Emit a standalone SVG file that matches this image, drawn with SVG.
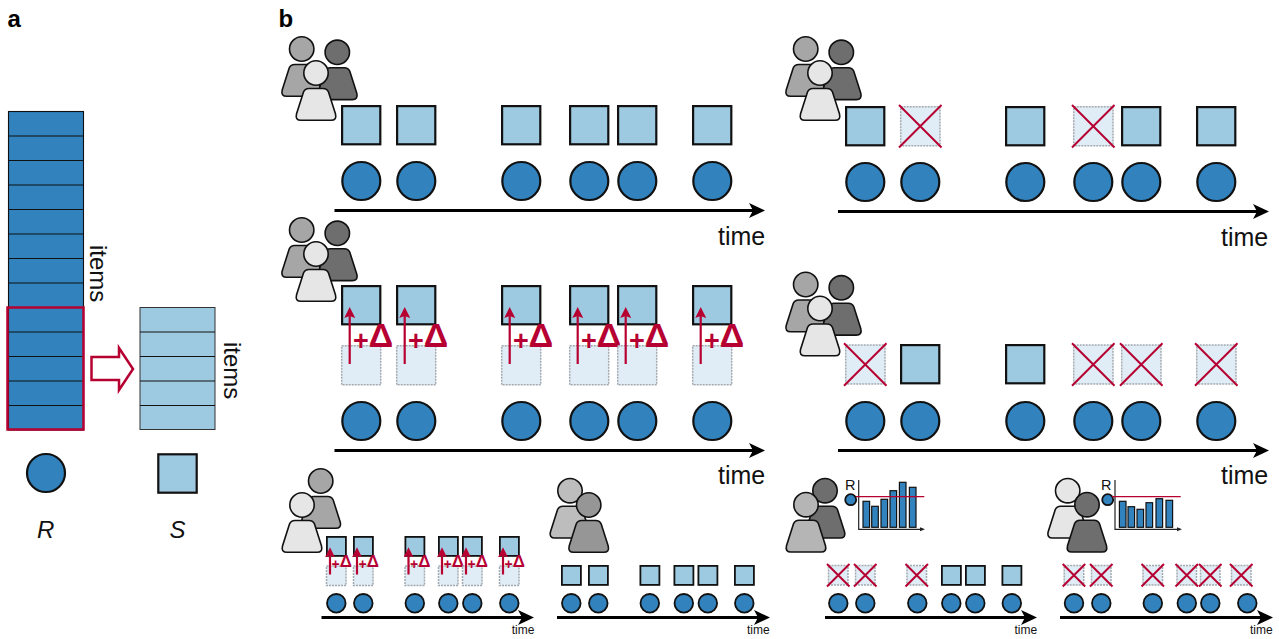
<svg xmlns="http://www.w3.org/2000/svg" width="1279" height="639" viewBox="0 0 1279 639">
<style>
text{font-family:"Liberation Sans",Arial,sans-serif;fill:#111}
.lab{font-size:24px;font-weight:bold;fill:#000}
.t{font-size:24px}
.tm{font-size:25px}
.ts{font-size:12px}
.i{font-size:24px;font-style:italic}
.r{font-size:14.5px}
.d{font-size:27px;font-weight:bold;fill:#b70032}
.d tspan{font-size:34px}
.ds{font-size:14px;font-weight:bold;fill:#b70032}
.ds tspan{font-size:17px}
.dk{stroke:#111;stroke-width:2.2}
.dks{stroke:#111;stroke-width:1.8}
.s{fill:#9ecae1}
.c{fill:#3182bd}
.pale{fill:#e1edf6;stroke:#a3a9b0;stroke-width:1.5;stroke-dasharray:2 1}
.cross{stroke:#b70032;stroke-width:2;fill:none}
.ax{stroke:#000;stroke-width:3;fill:none}
.ra{stroke:#b70032;stroke-width:2.2;fill:none}
.thin{stroke:#222;stroke-width:1.2;fill:none}
.row{stroke:#111;stroke-width:1.1}
.bar{fill:#3182bd;stroke:#111;stroke-width:1.2}
</style>
<defs>
<marker id="ah" markerUnits="userSpaceOnUse" markerWidth="16" markerHeight="16" viewBox="0 0 16 16" refX="12" refY="8" orient="auto"><polygon points="0,0.5 16,8 0,15.5 4,8" fill="#000"/></marker>
<marker id="rh" markerUnits="userSpaceOnUse" markerWidth="11" markerHeight="11" viewBox="0 0 11 11" refX="5.5" refY="5.5" orient="auto"><polygon points="0,0 11,5.5 0,11 2,5.5" fill="#b70032"/></marker>
<marker id="rs" markerUnits="userSpaceOnUse" markerWidth="10" markerHeight="10" viewBox="0 0 11 11" refX="5.5" refY="5.5" orient="auto"><polygon points="0,0 11,5.5 0,11 2,5.5" fill="#b70032"/></marker>
<marker id="sh" markerUnits="userSpaceOnUse" markerWidth="5" markerHeight="5" viewBox="0 0 5 5" refX="3" refY="2.5" orient="auto"><polygon points="0,0.5 5,2.5 0,4.5" fill="#222"/></marker>
<g id="per"><path d="M-7,15.5H7Q11,15.5 12.5,19L19.5,41Q21,47.3 15,47.3H-15Q-21,47.3 -19.5,41L-12.5,19Q-11,15.5 -7,15.5Z" stroke="#111" stroke-width="1.6"/><circle r="12.2" stroke="#111" stroke-width="1.6"/></g>
<rect id="S" x="1.1" y="1.1" width="38.2" height="38.2" class="s dk"/>
<circle id="C" cx="20.3" cy="20" r="19" class="c dk"/>
<g id="X"><rect x="0.7" y="0.7" width="39.3" height="39" class="pale"/><path d="M-1,-1L41.5,41.5M41.5,-1L-1,41.5" class="cross"/></g>
<rect id="P" x="0.7" y="0.7" width="39" height="39" class="pale"/>
<rect id="Ss" x="0.9" y="0.9" width="19" height="19" class="s dks"/>
<circle id="Cs" cx="10.3" cy="10.3" r="9.3" class="c dks"/>
<g id="Xs"><rect x="0.5" y="0.5" width="19.5" height="19.5" class="pale"/><path d="M-1,-1L21.5,21.5M21.5,-1L-1,21.5" class="cross"/></g>
<rect id="Ps" x="0.5" y="0.5" width="19.5" height="19.5" class="pale"/>
</defs>
<rect width="1279" height="639" fill="#fff"/>
<text class="lab" x="7.5" y="26.5">a</text>
<text class="lab" x="278.5" y="26.5">b</text>
<g id="stack-R">
<rect x="8.5" y="111.5" width="75" height="318.5" class="c" stroke="#111" stroke-width="1.1"/>
<path class="row" d="M8.5,136H83.5M8.5,160.5H83.5M8.5,185H83.5M8.5,209.5H83.5M8.5,234H83.5M8.5,258.5H83.5M8.5,283H83.5M8.5,307.5H83.5M8.5,332H83.5M8.5,356.5H83.5M8.5,381H83.5M8.5,405.5H83.5"/>
<rect x="7.5" y="307.5" width="76" height="122" fill="none" stroke="#b70032" stroke-width="2.5"/>
<text class="t" transform="translate(90,245) rotate(90)">items</text>
</g>
<g id="stack-S">
<rect x="140" y="307.5" width="75" height="122" class="s" stroke="#333" stroke-width="1"/>
<path class="row" d="M140,332H215M140,356.5H215M140,381H215M140,405.5H215"/>
<text class="t" transform="translate(224,342) rotate(90)">items</text>
</g>
<polygon id="select-arrow" points="91.5,357 119,357 119,348 133,369 119,390 119,380 91.5,380" fill="#fff" stroke="#b70032" stroke-width="2.5"/>
<g id="key-R"><circle cx="46" cy="473" r="19" class="c dk"/><text class="i" x="45.7" y="538" text-anchor="middle">R</text></g>
<g id="key-S"><rect x="158.3" y="454.3" width="38.4" height="38.4" class="s dk"/><text class="i" x="177.5" y="538" text-anchor="middle">S</text></g>

<g id="connectors">
<line class="ax" x1="334.5" y1="210.5" x2="761" y2="210.5" marker-end="url(#ah)"/>
<line class="ax" x1="838" y1="211.5" x2="1265" y2="211.5" marker-end="url(#ah)"/>
<line class="ax" x1="334.5" y1="450.5" x2="761" y2="450.5" marker-end="url(#ah)"/>
<line class="ax" x1="838" y1="450.5" x2="1265" y2="450.5" marker-end="url(#ah)"/>
<line class="ax" x1="321.5" y1="617.5" x2="530" y2="617.5" marker-end="url(#ah)"/>
<line class="ax" x1="557" y1="617.5" x2="766" y2="617.5" marker-end="url(#ah)"/>
<line class="ax" x1="825" y1="617.5" x2="1033" y2="617.5" marker-end="url(#ah)"/>
<line class="ax" x1="1060" y1="617.5" x2="1269" y2="617.5" marker-end="url(#ah)"/>
</g>
<g id="time-labels">
<text class="tm" x="718" y="245">time</text><text class="tm" x="1221" y="246">time</text>
<text class="tm" x="718" y="484">time</text><text class="tm" x="1221" y="484">time</text>
<text class="ts" x="511.7" y="634">time</text><text class="ts" x="747" y="634">time</text>
<text class="ts" x="1014.5" y="634">time</text><text class="ts" x="1250" y="634">time</text>
</g>

<g id="p1-people"><use href="#per" x="301.7" y="49" fill="#a6a6a6"/><use href="#per" x="337.3" y="52.3" fill="#6e6e6e"/><use href="#per" x="316" y="73" fill="#e6e6e6"/></g>
<g id="p1-i1"><use href="#S" x="341" y="105"/><use href="#C" x="341" y="161"/></g>
<g id="p1-i2"><use href="#S" x="396" y="105"/><use href="#C" x="396" y="161"/></g>
<g id="p1-i3"><use href="#S" x="501" y="105"/><use href="#C" x="501" y="161"/></g>
<g id="p1-i4"><use href="#S" x="569" y="105"/><use href="#C" x="569" y="161"/></g>
<g id="p1-i5"><use href="#S" x="617" y="105"/><use href="#C" x="617" y="161"/></g>
<g id="p1-i6"><use href="#S" x="692" y="105"/><use href="#C" x="692" y="161"/></g>

<g id="p2-people"><use href="#per" x="805.7" y="49" fill="#a6a6a6"/><use href="#per" x="841.3" y="52.3" fill="#6e6e6e"/><use href="#per" x="820" y="73" fill="#e6e6e6"/></g>
<g id="p2-i1"><use href="#S" x="845" y="106"/><use href="#C" x="845" y="162"/></g>
<g id="p2-i2"><use href="#X" x="900" y="106"/><use href="#C" x="900" y="162"/></g>
<g id="p2-i3"><use href="#S" x="1005" y="106"/><use href="#C" x="1005" y="162"/></g>
<g id="p2-i4"><use href="#X" x="1073" y="106"/><use href="#C" x="1073" y="162"/></g>
<g id="p2-i5"><use href="#S" x="1121" y="106"/><use href="#C" x="1121" y="162"/></g>
<g id="p2-i6"><use href="#S" x="1196" y="106"/><use href="#C" x="1196" y="162"/></g>

<g id="p3-people"><use href="#per" x="301.7" y="230" fill="#a6a6a6"/><use href="#per" x="337.3" y="233.3" fill="#6e6e6e"/><use href="#per" x="316" y="254" fill="#e6e6e6"/></g>
<g id="p3-i1"><use href="#S" x="341" y="285"/><use href="#P" x="341" y="345"/><use href="#C" x="341" y="401"/><line class="ra" x1="349.7" y1="364" x2="349.7" y2="312.5" marker-end="url(#rh)"/><text class="d" x="353" y="350">+<tspan y="347">Δ</tspan></text></g>
<g id="p3-i2"><use href="#S" x="396" y="285"/><use href="#P" x="396" y="345"/><use href="#C" x="396" y="401"/><line class="ra" x1="404.7" y1="364" x2="404.7" y2="312.5" marker-end="url(#rh)"/><text class="d" x="408" y="350">+<tspan y="347">Δ</tspan></text></g>
<g id="p3-i3"><use href="#S" x="501" y="285"/><use href="#P" x="501" y="345"/><use href="#C" x="501" y="401"/><line class="ra" x1="509.7" y1="364" x2="509.7" y2="312.5" marker-end="url(#rh)"/><text class="d" x="513" y="350">+<tspan y="347">Δ</tspan></text></g>
<g id="p3-i4"><use href="#S" x="569" y="285"/><use href="#P" x="569" y="345"/><use href="#C" x="569" y="401"/><line class="ra" x1="577.7" y1="364" x2="577.7" y2="312.5" marker-end="url(#rh)"/><text class="d" x="581" y="350">+<tspan y="347">Δ</tspan></text></g>
<g id="p3-i5"><use href="#S" x="617" y="285"/><use href="#P" x="617" y="345"/><use href="#C" x="617" y="401"/><line class="ra" x1="625.7" y1="364" x2="625.7" y2="312.5" marker-end="url(#rh)"/><text class="d" x="629" y="350">+<tspan y="347">Δ</tspan></text></g>
<g id="p3-i6"><use href="#S" x="692" y="285"/><use href="#P" x="692" y="345"/><use href="#C" x="692" y="401"/><line class="ra" x1="700.7" y1="364" x2="700.7" y2="312.5" marker-end="url(#rh)"/><text class="d" x="704" y="350">+<tspan y="347">Δ</tspan></text></g>

<g id="p4-people"><use href="#per" x="805.7" y="284.5" fill="#a6a6a6"/><use href="#per" x="841.3" y="287.8" fill="#6e6e6e"/><use href="#per" x="820" y="308.5" fill="#e6e6e6"/></g>
<g id="p4-i1"><use href="#X" x="845" y="344.3"/><use href="#C" x="845" y="401"/></g>
<g id="p4-i2"><use href="#S" x="900" y="344"/><use href="#C" x="900" y="401"/></g>
<g id="p4-i3"><use href="#S" x="1005" y="344"/><use href="#C" x="1005" y="401"/></g>
<g id="p4-i4"><use href="#X" x="1073" y="344.3"/><use href="#C" x="1073" y="401"/></g>
<g id="p4-i5"><use href="#X" x="1121" y="344.3"/><use href="#C" x="1121" y="401"/></g>
<g id="p4-i6"><use href="#X" x="1196" y="344.3"/><use href="#C" x="1196" y="401"/></g>

<g id="p5-people"><use href="#per" x="320.7" y="481" fill="#a6a6a6"/><use href="#per" x="302" y="505" fill="#e6e6e6"/></g>
<g id="p5-i1"><use href="#Ss" x="326" y="536"/><use href="#Ps" x="326" y="565.5"/><use href="#Cs" x="326" y="593"/><line class="ra" x1="330" y1="574.5" x2="330" y2="552.3" marker-end="url(#rs)"/><text class="ds" x="331.6" y="568.6">+<tspan y="567">Δ</tspan></text></g>
<g id="p5-i2"><use href="#Ss" x="353" y="536"/><use href="#Ps" x="353" y="565.5"/><use href="#Cs" x="353" y="593"/><line class="ra" x1="357" y1="574.5" x2="357" y2="552.3" marker-end="url(#rs)"/><text class="ds" x="358.6" y="568.6">+<tspan y="567">Δ</tspan></text></g>
<g id="p5-i3"><use href="#Ss" x="404.5" y="536"/><use href="#Ps" x="404.5" y="565.5"/><use href="#Cs" x="404.5" y="593"/><line class="ra" x1="408.5" y1="574.5" x2="408.5" y2="552.3" marker-end="url(#rs)"/><text class="ds" x="410.1" y="568.6">+<tspan y="567">Δ</tspan></text></g>
<g id="p5-i4"><use href="#Ss" x="438" y="536"/><use href="#Ps" x="438" y="565.5"/><use href="#Cs" x="438" y="593"/><line class="ra" x1="442" y1="574.5" x2="442" y2="552.3" marker-end="url(#rs)"/><text class="ds" x="443.6" y="568.6">+<tspan y="567">Δ</tspan></text></g>
<g id="p5-i5"><use href="#Ss" x="462" y="536"/><use href="#Ps" x="462" y="565.5"/><use href="#Cs" x="462" y="593"/><line class="ra" x1="466" y1="574.5" x2="466" y2="552.3" marker-end="url(#rs)"/><text class="ds" x="467.6" y="568.6">+<tspan y="567">Δ</tspan></text></g>
<g id="p5-i6"><use href="#Ss" x="499" y="536"/><use href="#Ps" x="499" y="565.5"/><use href="#Cs" x="499" y="593"/><line class="ra" x1="503" y1="574.5" x2="503" y2="552.3" marker-end="url(#rs)"/><text class="ds" x="504.6" y="568.6">+<tspan y="567">Δ</tspan></text></g>

<g id="p6-people"><use href="#per" x="570" y="490.7" fill="#bdbdbd"/><use href="#per" x="588.7" y="505" fill="#969696"/></g>
<g id="p6-i1"><use href="#Ss" x="561" y="565"/><use href="#Cs" x="561" y="593"/></g>
<g id="p6-i2"><use href="#Ss" x="588" y="565"/><use href="#Cs" x="588" y="593"/></g>
<g id="p6-i3"><use href="#Ss" x="639.5" y="565"/><use href="#Cs" x="639.5" y="593"/></g>
<g id="p6-i4"><use href="#Ss" x="673.5" y="565"/><use href="#Cs" x="673.5" y="593"/></g>
<g id="p6-i5"><use href="#Ss" x="697.5" y="565"/><use href="#Cs" x="697.5" y="593"/></g>
<g id="p6-i6"><use href="#Ss" x="734" y="565"/><use href="#Cs" x="734" y="593"/></g>

<g id="p7-people"><use href="#per" x="825" y="490.7" fill="#6e6e6e"/><use href="#per" x="806" y="504.7" fill="#b5b5b5"/></g>
<g id="p7-chart">
<text class="r" x="845" y="490">R</text>
<circle cx="850.7" cy="499.7" r="5.5" class="c dks"/>
<rect class="bar" x="863" y="501.3" width="6.6" height="26"/><rect class="bar" x="871.7" y="506.3" width="6.6" height="21"/><rect class="bar" x="881" y="499.3" width="6.6" height="28"/><rect class="bar" x="890" y="490.7" width="6.6" height="36.6"/><rect class="bar" x="899.4" y="482.3" width="6.6" height="45"/><rect class="bar" x="909.4" y="487.3" width="6.6" height="40"/>
<path class="thin" d="M858.7,480V529.3H923" marker-end="url(#sh)"/>
<line x1="856" y1="496.7" x2="924.3" y2="496.7" stroke="#b70032" stroke-width="1.3"/>
</g>
<g id="p7-i1"><use href="#Xs" x="828" y="565"/><use href="#Cs" x="828" y="593"/></g>
<g id="p7-i2"><use href="#Xs" x="855" y="565"/><use href="#Cs" x="855" y="593"/></g>
<g id="p7-i3"><use href="#Xs" x="906.5" y="565"/><use href="#Cs" x="907" y="593"/></g>
<g id="p7-i4"><use href="#Ss" x="941" y="565"/><use href="#Cs" x="941" y="593"/></g>
<g id="p7-i5"><use href="#Ss" x="965" y="565"/><use href="#Cs" x="965" y="593"/></g>
<g id="p7-i6"><use href="#Ss" x="1001.5" y="565"/><use href="#Cs" x="1001.5" y="593"/></g>

<g id="p8-people"><use href="#per" x="1067.7" y="490.7" fill="#e6e6e6"/><use href="#per" x="1087" y="504.7" fill="#6e6e6e"/></g>
<g id="p8-chart">
<text class="r" x="1101" y="490">R</text>
<circle cx="1107.7" cy="499.7" r="5.5" class="c dks"/>
<rect class="bar" x="1119.4" y="501.3" width="6.6" height="26"/><rect class="bar" x="1128" y="506.7" width="6.6" height="20.6"/><rect class="bar" x="1137" y="509.3" width="6.6" height="18"/><rect class="bar" x="1146" y="502.7" width="6.6" height="24.6"/><rect class="bar" x="1156" y="498.7" width="6.6" height="28.6"/><rect class="bar" x="1166" y="500.3" width="6.6" height="27"/>
<path class="thin" d="M1115,480V529.3H1180" marker-end="url(#sh)"/>
<line x1="1112" y1="496.7" x2="1180.7" y2="496.7" stroke="#b70032" stroke-width="1.3"/>
</g>
<g id="p8-i1"><use href="#Xs" x="1063.7" y="565"/><use href="#Cs" x="1063.7" y="593"/></g>
<g id="p8-i2"><use href="#Xs" x="1091" y="565"/><use href="#Cs" x="1091" y="593"/></g>
<g id="p8-i3"><use href="#Xs" x="1142.5" y="565"/><use href="#Cs" x="1142.5" y="593"/></g>
<g id="p8-i4"><use href="#Xs" x="1176.5" y="565"/><use href="#Cs" x="1176.5" y="593"/></g>
<g id="p8-i5"><use href="#Xs" x="1200" y="565"/><use href="#Cs" x="1200" y="593"/></g>
<g id="p8-i6"><use href="#Xs" x="1231" y="565"/><use href="#Cs" x="1237" y="593"/></g>
</svg>
